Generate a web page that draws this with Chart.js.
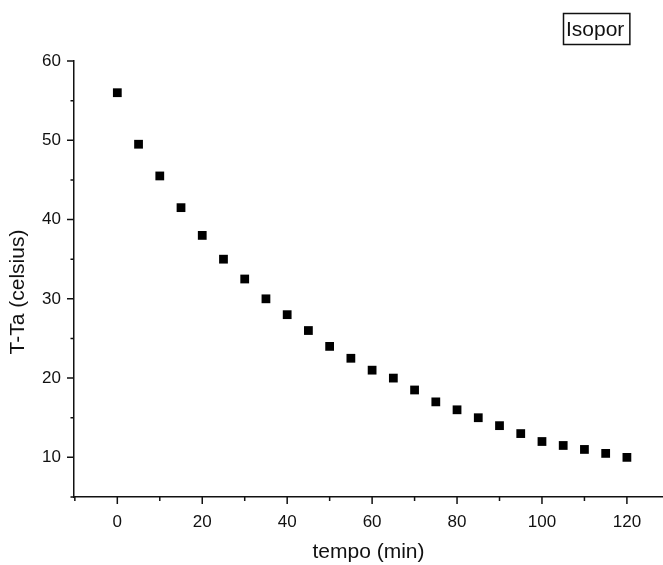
<!DOCTYPE html>
<html>
<head>
<meta charset="utf-8">
<script src="https://cdn.jsdelivr.net/npm/chart.js@4"></script>
<style>
  html, body { margin: 0; padding: 0; background: #fff; overflow: hidden; }
  canvas { display: block; }
</style>
</head>
<body>
<canvas id="isoporChart" width="663" height="565"></canvas>
<script>
// dados: tempo (min) e T-Ta (celsius)
const tempo = [0, 5, 10, 15, 20, 25, 30, 35, 40, 45, 50, 55, 60, 65, 70, 75, 80, 85, 90, 95, 100, 105, 110, 115, 120];
const tempDiff = [56, 49.5, 45.5, 41.5, 38, 35, 32.5, 30, 28, 26, 24, 22.5, 21, 20, 18.5, 17, 16, 15, 14, 13, 12, 11.5, 11, 10.5, 10];
const xTicks = [0, 20, 40, 60, 80, 100, 120];
const yTicks = [10, 20, 30, 40, 50, 60];
const serieLabel = 'Isopor';
const yTitle = 'T-Ta (celsius)';

const fontFamily = '"Liberation Sans", Arial, sans-serif';

// ticks maiores e menores, titulo do eixo y e caixa da legenda
const extras = {
    id: 'extras',
    afterDraw(chart) {
        const ctx = chart.ctx;
        const x = chart.scales.x;
        const y = chart.scales.y;
        const area = chart.chartArea;
        ctx.save();
        ctx.strokeStyle = '#111';
        ctx.lineWidth = 1.5;
        ctx.beginPath();
        for (let v = -10; v <= x.max; v += 10) {
            const px = x.getPixelForValue(v);
            const len = v % 20 === 0 ? 7 : 4;
            ctx.moveTo(px, area.bottom);
            ctx.lineTo(px, area.bottom + len);
        }
        for (let v = y.min; v <= y.max; v += 5) {
            const py = y.getPixelForValue(v);
            const len = v % 10 === 0 ? 7 : 3.5;
            ctx.moveTo(area.left, py);
            ctx.lineTo(area.left - len, py);
        }
        ctx.stroke();

        ctx.fillStyle = '#111';
        ctx.font = '21px ' + fontFamily;
        ctx.textBaseline = 'middle';
        ctx.textAlign = 'center';
        ctx.save();
        ctx.translate(18, 292);
        ctx.rotate(-Math.PI / 2);
        ctx.fillText(yTitle, 0, 0);
        ctx.restore();

        ctx.textAlign = 'left';
        const w = ctx.measureText(serieLabel).width;
        ctx.lineWidth = 1.5;
        ctx.strokeRect(563.5, 13.5, w + 8, 31);
        ctx.fillText(serieLabel, 566, 30);
        ctx.restore();
    }
};

const ctx = document.getElementById('isoporChart').getContext('2d');
new Chart(ctx, {
    type: 'scatter',
    data: {
        datasets: [{
            label: serieLabel,
            data: tempo.map((t, i) => ({ x: t, y: tempDiff[i] })),
            pointStyle: 'rect',
            pointRadius: 6.2,
            pointBorderWidth: 0,
            backgroundColor: '#000',
            borderColor: '#000'
        }]
    },
    options: {
        responsive: false,
        animation: false,
        layout: { autoPadding: false, padding: { top: 61, left: 0, right: 0, bottom: 0 } },
        plugins: {
            legend: { display: false },
            tooltip: { enabled: false }
        },
        scales: {
            x: {
                type: 'linear',
                min: -10.2,
                max: 128.5,
                afterBuildTicks: scale => { scale.ticks = xTicks.map(v => ({ value: v })); },
                afterFit: scale => { scale.height = 68; },
                grid: { display: false },
                border: { display: true, color: '#111', width: 1.5 },
                ticks: {
                    padding: 7,
                    color: '#111',
                    maxRotation: 0,
                    font: { family: fontFamily, size: 17 }
                },
                title: {
                    display: true,
                    text: 'tempo (min)',
                    color: '#111',
                    padding: { top: 0, bottom: 0 },
                    font: { family: fontFamily, size: 21 }
                }
            },
            y: {
                type: 'linear',
                min: 5,
                max: 60,
                afterBuildTicks: scale => { scale.ticks = yTicks.map(v => ({ value: v })); },
                afterFit: scale => { scale.width = 74; },
                grid: { display: false },
                border: { display: true, color: '#111', width: 1.5 },
                ticks: {
                    padding: 5,
                    color: '#111',
                    font: { family: fontFamily, size: 17 }
                }
            }
        }
    },
    plugins: [extras]
});
</script>
</body>
</html>
